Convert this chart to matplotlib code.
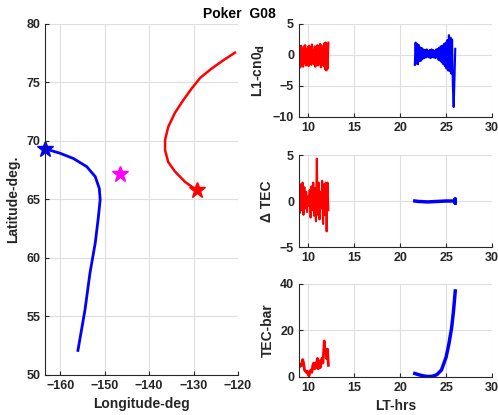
import numpy as np
import matplotlib
matplotlib.use("Agg")
import matplotlib.pyplot as plt

plt.rcParams['font.family'] = ['Liberation Sans', 'DejaVu Sans']
plt.rcParams['font.weight'] = 'bold'
plt.rcParams['axes.labelweight'] = 'bold'

# --- track data (longitude / latitude) ---
blue_lon = [-163.5, -160.0, -157.0, -154.0, -152.1, -151.2, -151.0, -151.4, -152.1,
            -153.3, -154.4, -156.0]
blue_lat = [69.35, 68.95, 68.5, 67.8, 66.95, 65.95, 65.0, 63.5, 61.3,
            58.7, 55.6, 52.1]
red_lon = [-120.7, -123.3, -125.9, -128.5, -130.4, -132.3, -134.2, -135.7, -136.4,
           -136.4, -135.7, -134.2, -131.9, -129.3]
red_lat = [77.55, 76.9, 76.2, 75.4, 74.5, 73.5, 72.4, 71.2, 70.1,
           69.2, 68.2, 67.4, 66.5, 65.8]
station_lon = -146.5
station_lat = 67.2

# --- time series (LT hours) ---
red_l1 = [-1.8, 1.2, -2.0, 1.5, -1.5, 1.0, -1.9, 1.4, -1.2, 1.6, -1.7, 0.9, -1.4, 1.3,
          -1.8, 1.5, -1.0, 1.2, -1.6, 1.7, -1.3, 0.8, -1.5, 1.4, -1.9, 1.1, -1.2, 1.6,
          -1.7, 1.3, -1.4, 1.8, -2.0, 1.5, -1.6, 1.2, -1.8, 1.9, -2.3, 2.0, -2.5, 1.8,
          -2.2, 2.0]
blue_l1 = [-1.6, 2.0, -1.4, 1.8, -1.5, 1.6, -1.0, 1.2, -0.9, 1.1, -0.6, 0.9, -0.5, 0.8,
           -0.4, 0.9, -0.3, 0.7, -0.4, 0.8, -0.5, 0.9, -0.3, 0.8, -0.4, 0.7, -0.5, 0.9,
           -0.4, 1.0, -0.8, 1.2, -0.9, 1.4, -1.2, 1.5, -1.5, 1.8, -1.8, 2.0, -2.2, 2.4,
           -2.5, 3.2, -2.6, 2.8, -3.0, 2.5, -5.0, -8.4, -4.0, 1.0]
red_dtec = [2.3, -1.3, 1.8, -1.0, 2.0, -1.5, 1.5, -0.8, 1.0, -1.2, 0.5, -0.5, 1.2, -1.8,
            1.6, -1.0, 2.0, -1.6, 1.4, -2.2, 4.6, -1.5, 2.0, -2.0, 1.0, -0.8, 2.2, -2.5,
            1.8, -1.5, 2.0, -3.3, 2.0, -1.0]
blue_dtec_t = [21.6, 22.0, 23.0, 24.0, 25.0, 25.9, 26.0, 26.0, 26.0]
blue_dtec = [0.0, -0.05, -0.1, -0.05, 0.0, 0.0, 0.25, -0.25, 0.1]
red_tec_t = [9.0, 9.1, 9.2, 9.3, 9.4, 9.5, 9.6, 9.7, 9.8, 9.9, 10.0, 10.1, 10.2, 10.3,
             10.4, 10.5, 10.6, 10.7, 10.8, 10.9, 11.0, 11.1, 11.2, 11.3, 11.4, 11.5,
             11.6, 11.7, 11.75, 11.8, 11.9, 12.0, 12.1, 12.2]
red_tec = [6, 4.5, 5.5, 5, 7.5, 6, 3, 2.5, 2, 2.5, 1, 0.5, 2.5, 3, 2, 5, 6, 3.5, 6, 4,
           8, 3.5, 7, 4, 6, 8, 6, 12, 15.5, 11, 12, 8, 12, 5]
blue_tec_t = [21.6, 22.0, 22.5, 23.0, 23.5, 24.0, 24.5, 25.0, 25.3, 25.6, 25.8, 26.0]
blue_tec = [1.5, 1.0, 0.5, 0.2, 0.3, 1.0, 3.0, 8.5, 14, 21, 28, 37]

red_t_l1 = np.linspace(9.0, 12.2, len(red_l1))
blue_t_l1 = np.linspace(21.6, 26.0, len(blue_l1))
red_t_dtec = np.linspace(9.0, 12.2, len(red_dtec))

RED = '#ff0000'
BLUE = '#0000ff'


def style(ax):
    ax.grid(True, color='0.87', linewidth=0.8)
    ax.set_axisbelow(True)
    for s in ('top', 'right'):
        ax.spines[s].set_visible(False)
    for s in ('left', 'bottom'):
        ax.spines[s].set_color('0.15')
    ax.tick_params(direction='in', length=3, labelsize=9, colors='0.15',
                   top=False, right=False)
    for lab in ax.get_xticklabels() + ax.get_yticklabels():
        lab.set_fontweight('bold')


fig = plt.figure(figsize=(4.98, 4.15), dpi=100)

# left: ground tracks
ax = fig.add_axes([0.0904, 0.0964, 0.3876, 0.8458])
ax.plot(blue_lon, blue_lat, color=BLUE, lw=2)
ax.plot(red_lon, red_lat, color=RED, lw=1.8)
ax.plot(blue_lon[0], blue_lat[0], marker='*', color=BLUE, ms=12, clip_on=False)
ax.plot(red_lon[-1], red_lat[-1], marker='*', color=RED, ms=12, clip_on=False)
ax.plot(station_lon, station_lat, marker='*', color='#ff00ff', ms=12)
ax.set_xlim(-163.4, -120)
ax.set_ylim(50, 80)
ax.set_xticks([-160, -150, -140, -130, -120])
ax.set_yticks([50, 55, 60, 65, 70, 75, 80])
ax.set_xlabel('Longitude-deg', fontsize=10, fontweight='bold', color='0.15')
ax.set_ylabel('Latitude-deg.', fontsize=10, fontweight='bold', color='0.15')
style(ax)

# right: L1-cn0_d
ax1 = fig.add_axes([0.6004, 0.7181, 0.3876, 0.2241])
ax1.plot(red_t_l1, red_l1, color=RED, lw=1.5)
ax1.plot(blue_t_l1, blue_l1, color=BLUE, lw=1.5)
ax1.set_xlim(9, 30)
ax1.set_ylim(-10, 5)
ax1.set_xticks([10, 15, 20, 25, 30])
ax1.set_yticks([-10, -5, 0, 5])
ax1.set_ylabel(r'L1-cn0$_{\mathbf{d}}$', fontsize=10, fontweight='bold', color='0.15')
style(ax1)

# right: delta TEC
ax2 = fig.add_axes([0.6004, 0.4048, 0.3876, 0.2217])
ax2.plot(red_t_dtec, red_dtec, color=RED, lw=1.5)
ax2.plot(blue_dtec_t, blue_dtec, color=BLUE, lw=2.5)
ax2.set_xlim(9, 30)
ax2.set_ylim(-5, 5)
ax2.set_xticks([10, 15, 20, 25, 30])
ax2.set_yticks([-5, 0, 5])
ax2.set_ylabel('\u0394 TEC', fontsize=10, fontweight='bold', color='0.15')
style(ax2)

# right: TEC-bar
ax3 = fig.add_axes([0.6004, 0.0916, 0.3876, 0.2241])
ax3.plot(red_tec_t, red_tec, color=RED, lw=2)
ax3.plot(blue_tec_t, blue_tec, color=BLUE, lw=2.5)
ax3.set_xlim(9, 30)
ax3.set_ylim(0, 40)
ax3.set_xticks([10, 15, 20, 25, 30])
ax3.set_yticks([0, 20, 40])
ax3.set_xlabel('LT-hrs', fontsize=10, fontweight='bold', color='0.15')
ax3.set_ylabel('TEC-bar', fontsize=10, fontweight='bold', color='0.15')
style(ax3)

fig.text(0.48, 0.966, 'Poker  G08', ha='center', va='center', fontsize=10, fontweight='bold')

fig.savefig('out.png', dpi=100)
